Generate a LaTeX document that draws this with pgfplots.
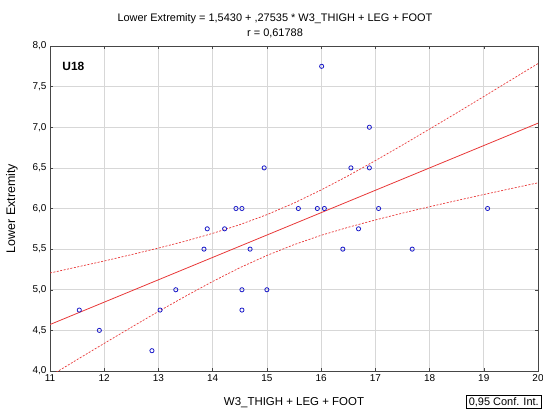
\documentclass[border=0pt]{standalone}
\usepackage{pgfplots}
\pgfplotsset{compat=1.18}
\usepackage{fontspec}
\setmainfont{Liberation Sans}
\usetikzlibrary{calc}

\definecolor{ptblue}{RGB}{25,25,200}
\definecolor{fitred}{RGB}{232,55,55}
\definecolor{gridgray}{RGB}{215,215,215}
\definecolor{framegray}{RGB}{70,70,70}

\begin{document}
\begin{tikzpicture}
\begin{axis}[
  name=ax,
  scale only axis,
  width=488bp, height=325bp,
  xmin=11, xmax=20, ymin=4, ymax=8,
  xtick={11,...,20},
  ytick={4,4.5,...,8},
  grid=major,
  major grid style={gridgray, line width=0.6pt},
  axis line style={framegray, line width=0.7pt},
  tick style={framegray, line width=0.5pt},
  major tick length=3bp,
  tick align=inside,
  every tick label/.append style={font=\fontsize{10}{12}\selectfont, text=black},
  /pgf/number format/assume math mode=true,
  /pgf/number format/use comma,
  yticklabel style={/pgf/number format/.cd, fixed, fixed zerofill, precision=1, use comma},
  xticklabel style={/pgf/number format/.cd, fixed, precision=0},
  clip=true,
]
% 95% confidence band, upper edge
\addplot[fitred, dash pattern=on 2pt off 1.5pt, line width=0.7pt] coordinates {
  (11,5.206) (11.5,5.280) (12,5.354) (12.5,5.432) (13,5.513) (13.5,5.599)
  (14,5.694) (14.5,5.801) (15,5.924) (15.5,6.067) (16,6.228) (16.5,6.403)
  (17,6.589) (17.5,6.781) (18,6.978) (18.5,7.176) (19,7.378) (19.5,7.581) (20,7.784)};
% 95% confidence band, lower edge
\addplot[fitred, dash pattern=on 2pt off 1.5pt, line width=0.7pt] coordinates {
  (11,3.938) (11.5,4.140) (12,4.340) (12.5,4.538) (13,4.733) (13.5,4.921)
  (14,5.102) (14.5,5.271) (15,5.422) (15.5,5.555) (16,5.670) (16.5,5.769)
  (17,5.859) (17.5,5.943) (18,6.022) (18.5,6.098) (19,6.172) (19.5,6.245) (20,6.316)};
% fitted line: 1.5430 + 0.27535 x
\addplot[fitred, line width=0.8pt] coordinates {(11,4.572) (20,7.050)};
% observations
\addplot[only marks, mark=o, mark size=2.1pt, ptblue, mark options={line width=0.8pt}] coordinates {
  (11.54,4.75) (11.91,4.50) (12.88,4.25) (13.03,4.75) (13.32,5.00)
  (13.84,5.50) (13.90,5.75) (14.22,5.75) (14.43,6.00) (14.54,6.00)
  (14.54,5.00) (14.54,4.75) (14.69,5.50) (15.00,5.00) (14.95,6.50)
  (15.58,6.00) (15.93,6.00) (16.06,6.00) (16.01,7.75) (16.40,5.50)
  (16.55,6.50) (16.89,6.50) (16.89,7.00) (16.69,5.75) (17.06,6.00)
  (17.68,5.50) (19.07,6.00)};
\node[anchor=west, inner sep=0pt, font=\bfseries\fontsize{12}{14}\selectfont] at (rel axis cs:0.025,0.936) {U18};
\end{axis}
% titles and axis labels
\node[font=\fontsize{11}{13}\selectfont] at ($(ax.north)+(-19bp,27bp)$) {Lower Extremity = 1,5430 + ,27535 * W3\_THIGH + LEG + FOOT};
\node[font=\fontsize{11}{13}\selectfont] at ($(ax.north)+(-19bp,13bp)$) {r = 0,61788};
\node[font=\fontsize{12.5}{14}\selectfont, rotate=90] at ($(ax.west)+(-38bp,0)$) {Lower Extremity};
\node[font=\fontsize{11.5}{13}\selectfont] at ($(ax.south)+(0,-32bp)$) {W3\_THIGH + LEG + FOOT};
\node[draw=black, line width=0.6pt, anchor=north east, inner xsep=2.5bp, inner ysep=2bp, font=\fontsize{11}{13}\selectfont] at ($(ax.south east)+(3.5bp,-24bp)$) {0,95 Conf. Int.};
\pgfresetboundingbox
\path[use as bounding box] ($(ax.south west)+(-50bp,-40bp)$) rectangle ($(ax.south west)+(493bp,371bp)$);
\end{tikzpicture}
\end{document}
